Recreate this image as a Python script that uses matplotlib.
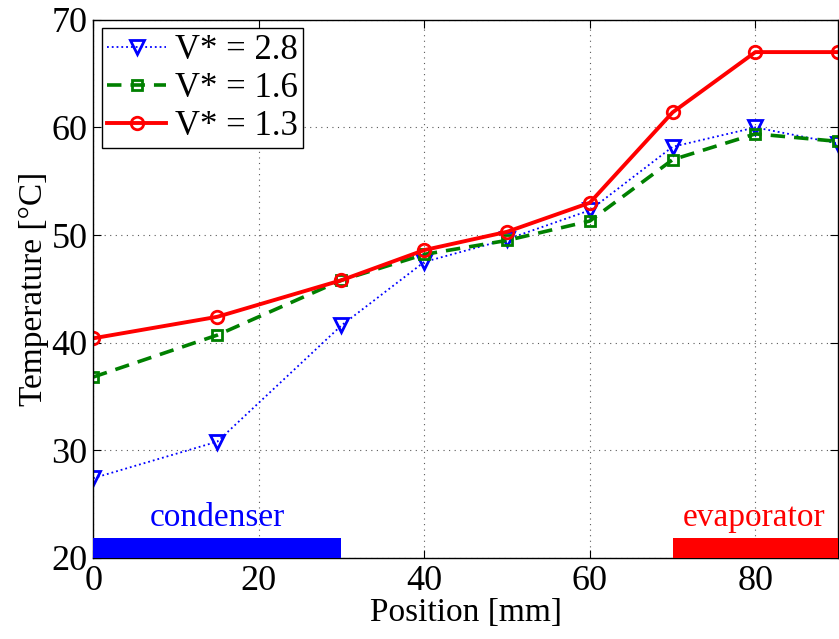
import numpy as np
import matplotlib.pyplot as plt
from matplotlib.patches import Rectangle

plt.rcParams['font.family'] = ['Liberation Serif', 'DejaVu Serif']

# positions along the pipe [mm]
position = [0, 15, 30, 40, 50, 60, 70, 80, 90]

# measured temperatures [degC]
temp_v28 = [27.4, 30.8, 41.6, 47.5, 49.6, 52.3, 58.2, 60.0, 58.5]
temp_v16 = [36.8, 40.7, 45.8, 48.2, 49.5, 51.3, 57.0, 59.4, 58.7]
temp_v13 = [40.4, 42.4, 45.8, 48.6, 50.3, 53.0, 61.4, 67.0, 67.0]

labels = ['V* = 2.8', 'V* = 1.6', 'V* = 1.3']

# heat exchanger sections [mm]
condenser = (0, 30)
evaporator = (70, 90)

fig = plt.figure(figsize=(8.39, 6.39), dpi=100)
ax = fig.add_axes([0.111, 0.127, 0.888, 0.842])

ax.plot(position, temp_v28, color='blue', ls=':', lw=1.3, marker='v',
        ms=10, mfc='none', mew=2, label=labels[0])
ax.plot(position, temp_v16, color='green', ls='--', lw=2.6, marker='s',
        ms=7, mfc='none', mew=2, dashes=(4, 2.5), label=labels[1])
ax.plot(position, temp_v13, color='red', ls='-', lw=2.8, marker='o',
        ms=9, mfc='none', mew=2, label=labels[2])

# section bars along the bottom
ax.add_patch(Rectangle((condenser[0], 20), condenser[1] - condenser[0], 1.8,
                       color='blue', lw=0, clip_on=False, zorder=5))
ax.add_patch(Rectangle((evaporator[0], 20), evaporator[1] - evaporator[0], 1.8,
                       color='red', lw=0, clip_on=False, zorder=5))
ax.text(np.mean(condenser), 22.3, 'condenser', color='blue', fontsize=24,
        ha='center', va='bottom')
ax.text(79.8, 22.3, 'evaporator', color='red', fontsize=24,
        ha='center', va='bottom')

ax.set_xlim(0, 90)
ax.set_ylim(20, 70)
ax.set_xticks([0, 20, 40, 60, 80])
ax.set_yticks([20, 30, 40, 50, 60, 70])
ax.grid(True, ls=(0, (1, 4)), color='0.35', lw=0.8)
ax.tick_params(direction='in', top=True, right=True, labelsize=26, length=6)
ax.tick_params(axis='x', pad=5)
ax.tick_params(axis='y', pad=4)
for s in ax.spines.values():
    s.set_linewidth(1.0)

ax.set_xlabel('Position [mm]', fontsize=24, labelpad=0)
ax.set_ylabel('Temperature [°C]', fontsize=24, labelpad=2)

leg = ax.legend(loc='upper left', fontsize=25, handlelength=1.7,
                fancybox=False, edgecolor='black', framealpha=1,
                borderaxespad=0.25, borderpad=0.15, labelspacing=0.15,
                handletextpad=0.25)
leg.get_frame().set_linewidth(1.0)

fig.savefig('out.png', dpi=100)
